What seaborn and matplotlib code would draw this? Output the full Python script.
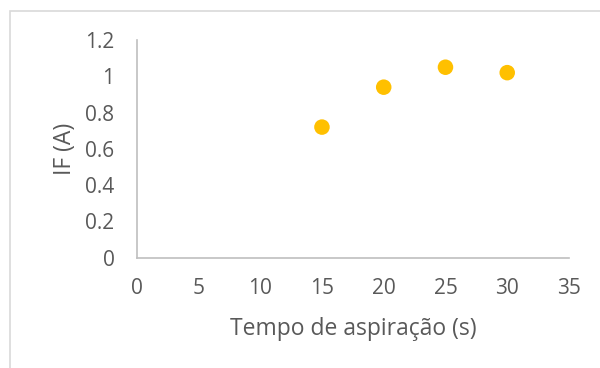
import matplotlib
matplotlib.use("Agg")
import matplotlib.pyplot as plt
import seaborn as sns
import pandas as pd
from matplotlib.patches import Rectangle

# Aspiration time (s) and resulting IF (A)
tempo = [15, 20, 25, 30]
if_valores = [0.72, 0.94, 1.05, 1.02]
x_ticks = [0, 5, 10, 15, 20, 25, 30, 35]
y_ticks = [0, 0.2, 0.4, 0.6, 0.8, 1.0, 1.2]
y_tick_labels = ["0", "0.2", "0.4", "0.6", "0.8", "1", "1.2"]

df = pd.DataFrame({"tempo": tempo, "IF": if_valores})

sns.set_theme(style="white")
plt.rcParams["font.family"] = ["Open Sans", "DejaVu Sans"]

text_color = "#595959"
axis_color = "#BFBFBF"

fig = plt.figure(figsize=(6.0, 3.68), dpi=100)
ax = fig.add_axes([0.2278, 0.2997, 0.7205, 0.5916])

sns.scatterplot(data=df, x="tempo", y="IF", ax=ax, color="#FFC000",
                s=125, edgecolor="none", zorder=3)

ax.set_xlim(0, 35)
ax.set_ylim(0, 1.2)
ax.set_xticks(x_ticks)
ax.set_xticklabels([str(v) for v in x_ticks])
ax.set_yticks(y_ticks)
ax.set_yticklabels(y_tick_labels)

for side in ("top", "right"):
    ax.spines[side].set_visible(False)
for side in ("left", "bottom"):
    ax.spines[side].set_color(axis_color)
    ax.spines[side].set_linewidth(1.2)

ax.tick_params(axis="both", length=0, labelsize=15, colors=text_color)
ax.tick_params(axis="y", pad=16)
ax.tick_params(axis="x", pad=14.5)

ax.set_xlabel("Tempo de aspiração (s)", fontsize=16.5, color=text_color, labelpad=13)
ax.set_ylabel("IF (A)", fontsize=16.5, color=text_color, labelpad=6)

# Chart-area frame
fig.add_artist(Rectangle((10 / 600, -0.1), 1.2, 1 - 10.5 / 368 + 0.1,
                         transform=fig.transFigure, fill=False,
                         edgecolor="#D9D9D9", linewidth=1.2))

fig.savefig("out.png", dpi=100)
